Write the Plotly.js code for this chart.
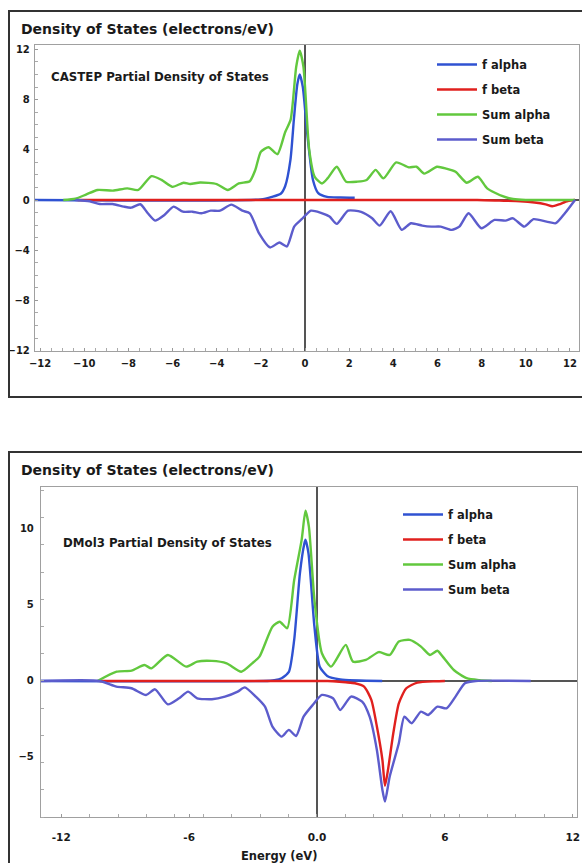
<!DOCTYPE html>
<html>
<head>
<meta charset="utf-8">
<script src="https://cdn.plot.ly/plotly-3.0.1.min.js"></script>
<style>html,body{margin:0;padding:0;background:#fff}#chart{width:582px;height:863px}</style>
</head>
<body>
<div id="chart"></div>
<script>
// ---------- CASTEP (top panel) ----------
const castepFAlphaE = [-12.23,-2.0,-1.5,-1.1,-0.9,-0.66,-0.5,-0.35,-0.24,-0.1,0.1,0.36,0.6,1.0,1.6,2.25];
const castepFAlphaD = [0,0.05,0.25,0.5,1.1,3.2,6.5,9.2,10.0,9.0,5.3,1.6,0.55,0.25,0.2,0.18];

const castepFBetaE = [-10.3,7.8,8.8,9.75,10.4,10.9,11.2,11.5,11.9,12.23];
const castepFBetaD = [0,0,-0.05,-0.1,-0.2,-0.35,-0.5,-0.35,-0.08,0];

const castepSumAlphaE = [-10.95,-10.4,-9.9,-9.4,-8.7,-8.05,-7.55,-6.95,-6.5,-6.0,-5.5,-5.2,-4.75,-4.0,-3.5,-3.0,-2.5,-2.25,-2.0,-1.65,-1.25,-0.9,-0.65,-0.4,-0.24,-0.07,0.19,0.44,0.77,1.02,1.44,1.86,2.37,2.79,3.2,3.55,4.13,4.7,5.05,5.4,5.98,6.4,6.82,7.32,7.83,8.25,8.92,9.42,10.0,11.0,12.23];
const castepSumAlphaD = [0,0.1,0.45,0.8,0.75,0.93,0.8,1.9,1.6,1.05,1.38,1.27,1.4,1.27,0.8,1.32,1.5,2.4,3.85,4.2,3.65,5.4,6.4,10.6,11.9,10.6,4.0,1.85,1.32,1.72,2.65,1.46,1.46,1.6,2.4,1.72,3.0,2.6,2.65,2.1,2.65,2.5,2.25,1.38,1.85,0.93,0.32,0.08,0,0,0];

const castepSumBetaE = [-10.4,-9.75,-9.3,-8.72,-8.21,-7.87,-7.46,-7.12,-6.79,-6.37,-5.95,-5.53,-5.1,-4.69,-4.27,-3.85,-3.34,-2.84,-2.5,-2.08,-1.58,-1.16,-0.82,-0.49,-0.15,0.27,0.69,1.11,1.44,1.95,2.54,3.04,3.38,3.88,4.38,4.8,5.31,5.73,6.15,6.65,6.99,7.41,7.99,8.58,9.08,9.42,9.93,10.35,10.94,11.36,11.77,12.23];
const castepSumBetaD = [0,-0.1,-0.32,-0.32,-0.53,-0.61,-0.34,-1.06,-1.64,-1.19,-0.53,-0.93,-0.93,-1.06,-0.85,-0.85,-0.37,-0.85,-1.06,-2.65,-3.78,-3.39,-3.7,-2.12,-1.53,-0.85,-1.0,-1.32,-1.9,-0.85,-0.95,-1.46,-2.04,-0.9,-2.38,-1.85,-2.04,-2.12,-2.12,-2.38,-2.12,-1.06,-2.25,-1.59,-1.64,-1.46,-2.12,-1.53,-1.72,-1.85,-1.06,0];

const castepXTicks = [-12,-10,-8,-6,-4,-2,0,2,4,6,8,10,12];
const castepYTicks = [-12,-8,-4,0,4,8,12];

// ---------- DMol3 (bottom panel) ----------
const dmolFAlphaE = [-12.95,-2.5,-2.0,-1.66,-1.32,-1.07,-0.8,-0.6,-0.54,-0.4,-0.12,0.13,0.48,1.09,3.06];
const dmolFAlphaD = [0,0,0.05,0.18,0.6,2.7,7.1,9.0,9.3,8.4,3.57,0.94,0.33,0.1,0];

const dmolFBetaE = [-10.2,0.5,0.75,1.35,1.78,2.21,2.55,2.81,3.07,3.19,3.33,3.58,3.84,4.19,4.71,5.56,6.0];
const dmolFBetaD = [0,0,-0.02,-0.09,-0.15,-0.37,-1.25,-3.0,-5.2,-6.9,-5.86,-3.44,-1.47,-0.48,-0.11,-0.02,0];

const dmolSumAlphaE = [-10.3,-9.4,-8.7,-8.1,-7.77,-7.0,-6.14,-5.62,-4.93,-4.24,-3.55,-3.04,-2.7,-2.09,-1.75,-1.4,-1.07,-0.72,-0.54,-0.38,-0.12,0.23,0.66,1.35,1.69,2.29,2.9,3.41,3.84,4.35,4.88,5.3,5.65,5.9,6.42,7.02,7.62,8.2];
const dmolSumAlphaD = [0,0.61,0.68,1.05,0.83,1.71,0.94,1.27,1.32,1.16,0.61,1.16,1.6,3.57,3.9,3.47,6.64,9.28,11.2,10.15,5.33,1.82,0.94,2.37,1.27,1.38,1.9,1.71,2.59,2.7,2.26,1.71,1.99,1.6,0.72,0.18,0.05,0];

const dmolSumBetaE = [-12.95,-10.2,-9.41,-8.71,-8.02,-7.6,-7.0,-6.47,-6.05,-5.62,-4.93,-4.32,-3.72,-3.39,-2.87,-2.44,-2.09,-1.66,-1.32,-0.98,-0.63,-0.2,0.23,0.75,1.09,1.6,2.12,2.47,2.81,3.07,3.19,3.41,3.84,4.1,4.44,4.88,5.21,5.65,6.08,6.5,6.94,7.45,10.03];
const dmolSumBetaD = [0,0,-0.37,-0.48,-0.92,-0.55,-1.54,-1.14,-0.7,-1.14,-1.2,-1.03,-0.7,-0.42,-1.03,-1.69,-3.0,-3.66,-3.22,-3.62,-2.35,-1.58,-0.92,-1.14,-1.91,-1.03,-1.36,-2.35,-4.54,-7.17,-7.94,-6.3,-4.1,-2.35,-2.78,-2.02,-2.24,-1.69,-1.8,-1.03,-0.15,0,0];

const dmolXTicks = [-12,-6,0,6,12];
const dmolXLabels = ['-12','-6','0.0','6','12'];
const dmolYTicks = [-5,0,5,10];

const seriesNames = ['f alpha','f beta','Sum alpha','Sum beta'];
const seriesColors = ['#2f52d2','#e0201e','#62c83e','#5c5ccc'];

// ---------- build ----------
const W = 582, H = 863;
const px = v => v / W;
const py = v => 1 - v / H;
const FONT = 'DejaVu Sans';

function mk(E, D, i, xa, ya, leg) {
  return {
    x: E, y: D, type: 'scatter', mode: 'lines', name: seriesNames[i],
    xaxis: xa, yaxis: ya, legend: leg, legendgroup: leg + i,
    line: {color: seriesColors[i], width: 2.4, shape: 'spline', smoothing: 0.6},
    hoverinfo: 'skip'
  };
}

const data = [
  mk(castepFAlphaE, castepFAlphaD, 0, 'x', 'y', 'legend'),
  mk(castepFBetaE, castepFBetaD, 1, 'x', 'y', 'legend'),
  mk(castepSumAlphaE, castepSumAlphaD, 2, 'x', 'y', 'legend'),
  mk(castepSumBetaE, castepSumBetaD, 3, 'x', 'y', 'legend'),
  mk(dmolFAlphaE, dmolFAlphaD, 0, 'x2', 'y2', 'legend2'),
  mk(dmolFBetaE, dmolFBetaD, 1, 'x2', 'y2', 'legend2'),
  mk(dmolSumAlphaE, dmolSumAlphaD, 2, 'x2', 'y2', 'legend2'),
  mk(dmolSumBetaE, dmolSumBetaD, 3, 'x2', 'y2', 'legend2')
];

const axBase = {
  showgrid: false, zeroline: true, zerolinecolor: '#555', zerolinewidth: 1.2,
  showline: true, linecolor: '#a0a0a0', linewidth: 1.2, mirror: true,
  ticks: 'inside', ticklen: 3, tickcolor: '#999', tickwidth: 1,
  tickfont: {family: FONT, size: 10, color: '#1a1a1a', weight: 'bold'},
  ticklabeloverflow: 'allow', fixedrange: true
};

const legBase = {
  xanchor: 'left', yanchor: 'top', bgcolor: 'rgba(0,0,0,0)', borderwidth: 0,
  font: {family: FONT, size: 11.5, color: '#1a1a1a', weight: 'bold'},
  tracegroupgap: 6, itemwidth: 40, itemclick: false, itemdoubleclick: false
};

const layout = {
  width: W, height: H, margin: {l: 0, r: 0, t: 0, b: 0},
  paper_bgcolor: '#fff', plot_bgcolor: '#fff', showlegend: true,
  font: {family: FONT, color: '#1a1a1a'},
  xaxis: Object.assign({}, axBase, {
    domain: [px(35), px(579)], range: [-12.23, 12.41], anchor: 'y',
    tickmode: 'array', tickvals: castepXTicks, ticklabelstandoff: 3,
    minor: {tick0: 0, dtick: 0.5, ticks: 'inside', ticklen: 3, tickcolor: '#aaa', showgrid: false}
  }),
  yaxis: Object.assign({}, axBase, {
    domain: [py(351), py(45)], range: [-12.03, 12.35], anchor: 'x',
    tickmode: 'array', tickvals: castepYTicks, ticklabelstandoff: 2,
    minor: {tick0: 0, dtick: 1, ticks: 'inside', ticklen: 3, tickcolor: '#aaa', showgrid: false}
  }),
  xaxis2: Object.assign({}, axBase, {
    domain: [px(41), px(577)], range: [-12.95, 12.2], anchor: 'y2',
    tickmode: 'array', tickvals: dmolXTicks, ticktext: dmolXLabels, ticklabelstandoff: 10,
    tickfont: {family: FONT, size: 10.5, color: '#1a1a1a', weight: 'bold'},
    minor: {tick0: 0, dtick: 4/3, ticks: 'inside', ticklen: 3, tickcolor: '#aaa', showgrid: false}
  }),
  yaxis2: Object.assign({}, axBase, {
    domain: [py(817), py(487)], range: [-8.95, 12.76], anchor: 'x2',
    tickmode: 'array', tickvals: dmolYTicks, ticklabelstandoff: 4, ticks: '',
    minor: {tick0: 0, dtick: 1.79, ticks: 'inside', ticklen: 3, tickcolor: '#aaa', showgrid: false}
  }),
  legend: Object.assign({}, legBase, {x: px(432), y: py(50)}),
  legend2: Object.assign({}, legBase, {x: px(398), y: py(500)}),
  shapes: [
    {type: 'rect', xref: 'paper', yref: 'paper', x0: px(9), x1: 1.05, y0: py(397), y1: py(11),
     line: {color: '#333', width: 2}, fillcolor: 'rgba(0,0,0,0)', layer: 'above'},
    {type: 'rect', xref: 'paper', yref: 'paper', x0: px(9), x1: 1.05, y0: -0.05, y1: py(452),
     line: {color: '#333', width: 2}, fillcolor: 'rgba(0,0,0,0)', layer: 'above'}
  ],
  annotations: [
    {text: 'Density of States (electrons/eV)', xref: 'paper', yref: 'paper', x: px(19), y: py(29),
     xanchor: 'left', yanchor: 'middle', showarrow: false,
     font: {family: FONT, size: 14, color: '#1a1a1a', weight: 'bold'}},
    {text: 'Density of States (electrons/eV)', xref: 'paper', yref: 'paper', x: px(19), y: py(470),
     xanchor: 'left', yanchor: 'middle', showarrow: false,
     font: {family: FONT, size: 14, color: '#1a1a1a', weight: 'bold'}},
    {text: 'CASTEP Partial Density of States', xref: 'paper', yref: 'paper', x: px(49), y: py(77),
     xanchor: 'left', yanchor: 'middle', showarrow: false,
     font: {family: FONT, size: 11.8, color: '#1a1a1a', weight: 'bold'}},
    {text: 'DMol3 Partial Density of States', xref: 'paper', yref: 'paper', x: px(61), y: py(543),
     xanchor: 'left', yanchor: 'middle', showarrow: false,
     font: {family: FONT, size: 11.8, color: '#1a1a1a', weight: 'bold'}},
    {text: 'Energy (eV)', xref: 'paper', yref: 'paper', x: px(279), y: py(856),
     xanchor: 'center', yanchor: 'middle', showarrow: false,
     font: {family: FONT, size: 11.5, color: '#1a1a1a', weight: 'bold'}}
  ]
};

Plotly.newPlot('chart', data, layout, {staticPlot: true, displayModeBar: false});
</script>
</body>
</html>
